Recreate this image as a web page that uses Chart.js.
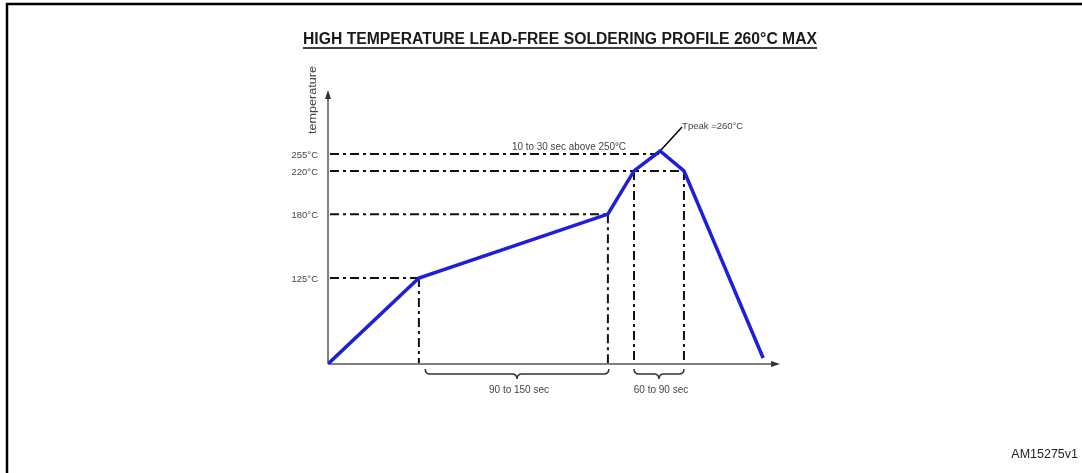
<!DOCTYPE html>
<html>
<head>
<meta charset="utf-8">
<script src="https://cdn.jsdelivr.net/npm/chart.js@4/dist/chart.umd.min.js"></script>
<style>
  body { margin: 0; background: #fff; }
  #wrap { width: 1082px; height: 473px; position: relative; }
</style>
</head>
<body>
<div id="wrap"><canvas id="chart"></canvas></div>
<script>
// schematic profile: x = time (arbitrary units), y = drawn temperature level (arbitrary units)
const timeSteps = [0, 20.2, 62.2, 68.0, 73.8, 79.1, 96.7];
const tempLevels = [0, 31.6, 55.1, 71.0, 78.3, 71.0, 2.2];

// reference temperatures on the y axis
const refLabels = ["125°C", "180°C", "220°C", "255°C"];
const refLevels = [31.6, 55.1, 71.0, 77.2];
const refEndTimes = [20.2, 62.2, 79.1, 73.8];

// vertical markers from the curve down to the time axis
const markerTimes = [20.2, 62.2, 68.0, 79.1];
const markerLevels = [31.6, 55.1, 71.0, 71.0];

// time windows
const braceLabels = ["90 to 150 sec", "60 to 90 sec"];
const braceStarts = [21.6, 68.0];
const braceEnds = [62.4, 79.1];

const titleText = "HIGH TEMPERATURE LEAD-FREE SOLDERING PROFILE 260°C MAX";
const FONT = "'Liberation Sans', Arial, sans-serif";

const chartElement = document.getElementById("chart");

function dashDot(ctx) {
  ctx.setLineDash([9, 4, 3, 4]);
}

// draw text squeezed/stretched to a given width
function fitText(ctx, text, x, y, width) {
  const w = ctx.measureText(text).width;
  ctx.save();
  ctx.translate(x, y);
  ctx.scale(width / w, 1);
  ctx.fillText(text, 0, 0);
  ctx.restore();
}

function drawBrace(ctx, x1, x2, y, depth) {
  const mid = (x1 + x2) / 2;
  const r = 5;
  ctx.beginPath();
  ctx.moveTo(x1, y);
  ctx.quadraticCurveTo(x1, y + r, x1 + r, y + r);
  ctx.lineTo(mid - r, y + r);
  ctx.quadraticCurveTo(mid, y + r, mid, y + r + depth);
  ctx.quadraticCurveTo(mid, y + r, mid + r, y + r);
  ctx.lineTo(x2 - r, y + r);
  ctx.quadraticCurveTo(x2, y + r, x2, y);
  ctx.stroke();
}

const profileDecor = {
  id: "profileDecor",
  beforeDatasetsDraw(chart) {
    const ctx = chart.ctx;
    const xs = chart.scales.x;
    const ys = chart.scales.y;
    const x0 = xs.getPixelForValue(0);
    const y0 = ys.getPixelForValue(0);

    ctx.save();
    // frame
    ctx.strokeStyle = "#000";
    ctx.lineWidth = 2.5;
    ctx.beginPath();
    ctx.moveTo(1082, 4);
    ctx.lineTo(7, 4);
    ctx.lineTo(7, 473);
    ctx.stroke();

    // title
    ctx.fillStyle = "#1a1a1a";
    ctx.font = "bold 16px " + FONT;
    ctx.textAlign = "center";
    ctx.textBaseline = "middle";
    fitText(ctx, titleText, 560, 40, 514);
    ctx.lineWidth = 1.5;
    ctx.beginPath();
    ctx.moveTo(303, 48);
    ctx.lineTo(817, 48);
    ctx.stroke();

    // axes
    ctx.strokeStyle = "#555";
    ctx.fillStyle = "#333";
    ctx.lineWidth = 1.5;
    const yTop = ys.getPixelForValue(100);
    const xEnd = xs.getPixelForValue(100);
    ctx.beginPath();
    ctx.moveTo(x0, y0);
    ctx.lineTo(x0, yTop + 4);
    ctx.moveTo(x0, y0);
    ctx.lineTo(xEnd - 4, y0);
    ctx.stroke();
    ctx.beginPath();
    ctx.moveTo(x0, yTop - 2);
    ctx.lineTo(x0 - 3, yTop + 7);
    ctx.lineTo(x0 + 3, yTop + 7);
    ctx.closePath();
    ctx.fill();
    ctx.beginPath();
    ctx.moveTo(xEnd + 2, y0);
    ctx.lineTo(xEnd - 7, y0 - 3);
    ctx.lineTo(xEnd - 7, y0 + 3);
    ctx.closePath();
    ctx.fill();

    // reference lines
    ctx.strokeStyle = "#111";
    ctx.lineWidth = 2;
    dashDot(ctx);
    refLevels.forEach((lv, i) => {
      const py = ys.getPixelForValue(lv);
      ctx.beginPath();
      ctx.moveTo(x0 + 2, py);
      ctx.lineTo(xs.getPixelForValue(refEndTimes[i]), py);
      ctx.stroke();
    });
    markerTimes.forEach((t, i) => {
      const px = xs.getPixelForValue(t);
      ctx.beginPath();
      ctx.moveTo(px, ys.getPixelForValue(markerLevels[i]));
      ctx.lineTo(px, y0 - 1);
      ctx.stroke();
    });
    ctx.setLineDash([]);

    // y labels
    ctx.fillStyle = "#444";
    ctx.font = "9.5px " + FONT;
    ctx.textAlign = "right";
    refLabels.forEach((lb, i) => {
      ctx.fillText(lb, 318, ys.getPixelForValue(refLevels[i]) + 1);
    });

    // axis title
    ctx.save();
    ctx.translate(313, 100);
    ctx.rotate(-Math.PI / 2);
    ctx.textAlign = "center";
    ctx.font = "10px " + FONT;
    fitText(ctx, "temperature", 0, 0, 68);
    ctx.restore();

    // braces
    ctx.strokeStyle = "#333";
    ctx.lineWidth = 1.5;
    ctx.textAlign = "center";
    ctx.font = "10px " + FONT;
    braceLabels.forEach((lb, i) => {
      const a = xs.getPixelForValue(braceStarts[i]);
      const b = xs.getPixelForValue(braceEnds[i]);
      drawBrace(ctx, a, b, y0 + 5, 5);
      ctx.fillText(lb, (a + b) / 2 + 2, y0 + 26);
    });

    // peak annotations
    const pkX = xs.getPixelForValue(timeSteps[4]);
    const pkY = ys.getPixelForValue(tempLevels[4]);
    ctx.strokeStyle = "#000";
    ctx.lineWidth = 1.5;
    ctx.beginPath();
    ctx.moveTo(pkX, pkY);
    ctx.lineTo(pkX + 22, pkY - 24);
    ctx.stroke();
    ctx.textAlign = "left";
    ctx.fillStyle = "#444";
    ctx.font = "9.5px " + FONT;
    ctx.fillText("Tpeak =260°C", pkX + 22, pkY - 25);
    ctx.textAlign = "center";
    ctx.font = "10px " + FONT;
    fitText(ctx, "10 to 30 sec above 250°C", 569, ys.getPixelForValue(refLevels[3]) - 7, 114);

    // code
    ctx.fillStyle = "#222";
    ctx.font = "12.5px " + FONT;
    ctx.textAlign = "right";
    ctx.fillText("AM15275v1", 1078, 455);
    ctx.restore();
  }
};

new Chart(chartElement, {
  type: "line",
  data: {
    datasets: [
      {
        data: timeSteps.map((t, i) => ({ x: t, y: tempLevels[i] })),
        borderColor: "#1f1fd8",
        borderWidth: 3.5,
        pointRadius: 0,
        tension: 0,
        fill: false,
      },
    ],
  },
  options: {
    responsive: true,
    maintainAspectRatio: false,
    animation: false,
    layout: { padding: { left: 328, right: 304, top: 92, bottom: 109 } },
    plugins: { legend: { display: false }, tooltip: { enabled: false } },
    scales: {
      x: { type: "linear", min: 0, max: 100, display: false },
      y: { min: 0, max: 100, display: false },
    },
  },
  plugins: [profileDecor],
});
</script>
</body>
</html>
